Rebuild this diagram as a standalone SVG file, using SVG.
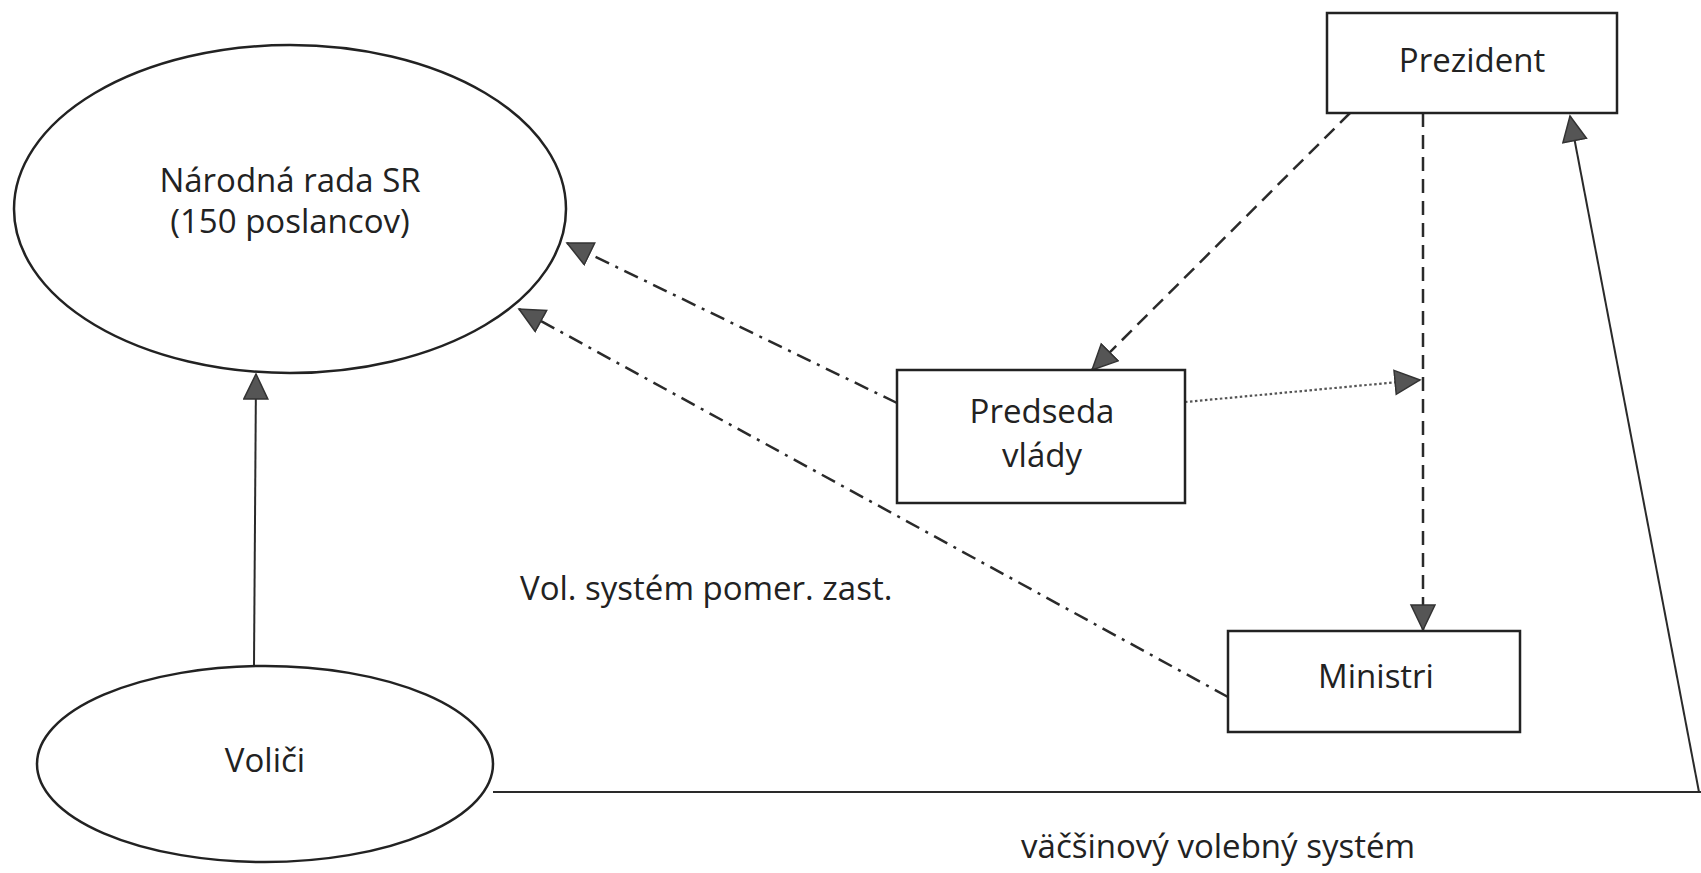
<svg xmlns="http://www.w3.org/2000/svg" width="1701" height="873" viewBox="0 0 1701 873">
<style>
.node{fill:#fff;stroke:#222;stroke-width:2.5}
.t{font-family:"Open Sans","Noto Sans",sans-serif;font-size:33px;fill:#222;text-anchor:middle}
.c{fill:none;stroke:#2a2a2a;stroke-width:2.5}
.solid{stroke-width:2}
.dash{stroke-dasharray:14 8}
.dashdot{stroke-dasharray:15 7 3 7}
.dot{stroke:#555;stroke-width:2.2;stroke-dasharray:2.5 2.5}
</style>
<defs>
<marker id="ah" markerUnits="userSpaceOnUse" markerWidth="30" markerHeight="30" refX="26" refY="13" orient="auto">
<path d="M1,1 L26,13 L1,25 Z" fill="#555" stroke="#333" stroke-width="1.5"/>
</marker>
</defs>
<rect width="1701" height="873" fill="#fff"/>
<g id="connectors">
<path class="c solid" d="M254,666 L256,374" marker-end="url(#ah)"/>
<path class="c solid" d="M493,792 L1701,792"/>
<path class="c solid" d="M1699,792 L1570,116" marker-end="url(#ah)"/>
<path class="c dash" d="M1350,113 L1092,370" marker-end="url(#ah)"/>
<path class="c dash" d="M1423,113 L1423,630" marker-end="url(#ah)"/>
<path class="c dot" d="M1185,402 L1420,380" marker-end="url(#ah)"/>
<path class="c dashdot" d="M897,403 L567,243" marker-end="url(#ah)"/>
<path class="c dashdot" d="M1228,697 L519,309" marker-end="url(#ah)"/>
</g>
<g id="narodna-rada">
<ellipse class="node" cx="290" cy="209" rx="276" ry="164"/>
<text class="t" x="290" y="192">Národná rada SR</text>
<text class="t" x="290" y="233">(150 poslancov)</text>
</g>
<g id="volici">
<ellipse class="node" cx="265" cy="764" rx="228" ry="98"/>
<text class="t" x="265" y="772">Voliči</text>
</g>
<g id="prezident">
<rect class="node" x="1327" y="13" width="290" height="100"/>
<text class="t" x="1472" y="72">Prezident</text>
</g>
<g id="predseda">
<rect class="node" x="897" y="370" width="288" height="133"/>
<text class="t" x="1042" y="423">Predseda</text>
<text class="t" x="1042" y="467">vlády</text>
</g>
<g id="ministri">
<rect class="node" x="1228" y="631" width="292" height="101"/>
<text class="t" x="1376" y="688">Ministri</text>
</g>
<g id="labels">
<text class="t" x="520" y="600" style="text-anchor:start">Vol. systém pomer. zast.</text>
<text class="t" x="1415" y="858" style="text-anchor:end">väčšinový volebný systém</text>
</g>
</svg>
